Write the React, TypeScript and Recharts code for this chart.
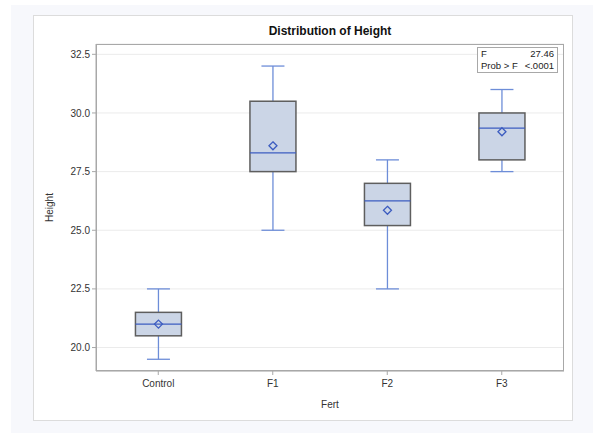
import { ComposedChart, Bar, XAxis, YAxis, CartesianGrid } from "recharts";

// box plot stats per group
const categories = ["Control", "F1", "F2", "F3"];
const minVals = [19.5, 25.0, 22.5, 27.5];
const q1Vals = [20.5, 27.5, 25.2, 28.0];
const medianVals = [21.0, 28.3, 26.25, 29.35];
const q3Vals = [21.5, 30.5, 27.0, 30.0];
const maxVals = [22.5, 32.0, 28.0, 31.0];
const meanVals = [21.0, 28.6, 25.85, 29.2];
const yTicks = [20, 22.5, 25, 27.5, 30, 32.5];
const statLabels = ["F", "Prob > F"];
const statValues = ["27.46", "<.0001"];

const data = categories.map((name, i) => ({
  name,
  min: minVals[i],
  q1: q1Vals[i],
  median: medianVals[i],
  q3: q3Vals[i],
  max: maxVals[i],
  mean: meanVals[i],
}));

const FONT = "'Liberation Sans', Arial, sans-serif";
const WHISKER = "#6d8dd8";
const INNER = "#3c5cc0";

// eslint-disable-next-line @typescript-eslint/no-explicit-any
function BoxShape(props: any) {
  const { x, y, width, height } = props;
  const p = props.payload ?? props;
  const top = Math.min(y, y + height);
  const h = Math.abs(height);
  const toY = (v: number) => top + (h * (p.max - v)) / (p.max - p.min);
  const cx = x + width / 2;
  const boxW = 46;
  const capW = 23;
  const yQ1 = toY(p.q1);
  const yQ3 = toY(p.q3);
  const yMed = toY(p.median);
  const yMean = toY(p.mean);
  const d = 4;
  return (
    <g>
      <line x1={cx} x2={cx} y1={toY(p.max)} y2={yQ3} stroke={WHISKER} strokeWidth={1.3} />
      <line x1={cx} x2={cx} y1={yQ1} y2={toY(p.min)} stroke={WHISKER} strokeWidth={1.3} />
      <line x1={cx - capW / 2} x2={cx + capW / 2} y1={toY(p.max)} y2={toY(p.max)} stroke={WHISKER} strokeWidth={1.3} />
      <line x1={cx - capW / 2} x2={cx + capW / 2} y1={toY(p.min)} y2={toY(p.min)} stroke={WHISKER} strokeWidth={1.3} />
      <rect x={cx - boxW / 2} y={yQ3} width={boxW} height={yQ1 - yQ3} fill="#cbd5e6" stroke="#5e5e5e" strokeWidth={1.5} />
      <line x1={cx - boxW / 2} x2={cx + boxW / 2} y1={yMed} y2={yMed} stroke={INNER} strokeWidth={1.3} />
      <polygon
        points={`${cx},${yMean - d} ${cx + d},${yMean} ${cx},${yMean + d} ${cx - d},${yMean}`}
        fill="none"
        stroke={INNER}
        strokeWidth={1.3}
      />
    </g>
  );
}

export default function App() {
  return (
    <div style={{ position: "absolute", left: 0, top: 0, width: 593, height: 433, background: "#fff", fontFamily: FONT }}>
      <div style={{ position: "absolute", left: 11, top: 5, width: 582, height: 428, background: "#f7f8fc" }} />
      <div
        style={{
          position: "absolute",
          left: 33,
          top: 15,
          width: 538,
          height: 404,
          background: "#fff",
          border: "1px solid #dcdcdc",
        }}
      />
      <div
        style={{
          position: "absolute",
          left: 96,
          top: 24,
          width: 468,
          textAlign: "center",
          fontWeight: "bold",
          fontSize: 12,
          color: "#111",
        }}
      >
        Distribution of Height
      </div>
      <div style={{ position: "absolute", left: 0, top: 0 }}>
        <ComposedChart
          width={593}
          height={433}
          data={data}
          margin={{ top: 44, right: 29, left: 36, bottom: 32 }}
        >
          <CartesianGrid horizontal vertical={false} stroke="#ebebeb" strokeWidth={1} />
          <XAxis
            dataKey="name"
            type="category"
            padding={{ left: 5, right: 5 }}
            height={30}
            tick={{ fontSize: 10, fill: "#333", fontFamily: FONT }}
            tickLine={{ stroke: "#a8a8a8" }}
            tickSize={4}
            tickMargin={5}
            axisLine={{ stroke: "#a8a8a8" }}
            label={{ value: "Fert", position: "insideBottom", offset: -7, fontSize: 10, fill: "#333", fontFamily: FONT }}
          />
          <YAxis
            type="number"
            domain={[19.0, 32.94]}
            ticks={yTicks}
            allowDataOverflow
            width={60}
            tickFormatter={(v) => Number(v).toFixed(1)}
            tick={{ fontSize: 10, fill: "#333", fontFamily: FONT }}
            tickLine={{ stroke: "#a8a8a8" }}
            tickSize={4}
            axisLine={{ stroke: "#a8a8a8" }}
            label={{
              value: "Height",
              angle: -90,
              position: "insideLeft",
              offset: 13,
              fontSize: 10,
              fill: "#333",
              fontFamily: FONT,
              style: { textAnchor: "middle" },
            }}
          />
          <Bar
            dataKey={(d: { min: number; max: number }) => [d.min, d.max]}
            shape={BoxShape}
            isAnimationActive={false}
          />
        </ComposedChart>
      </div>
      <div
        style={{
          position: "absolute",
          left: 96,
          top: 44,
          width: 468,
          height: 327,
          border: "1px solid #a8a8a8",
          boxSizing: "border-box",
          pointerEvents: "none",
        }}
      />
      <div
        style={{
          position: "absolute",
          left: 477,
          top: 47,
          width: 81,
          height: 26,
          border: "1px solid #a8a8a8",
          boxSizing: "border-box",
          background: "#fff",
          fontSize: 9.5,
          color: "#222",
          lineHeight: "11.5px",
          padding: "0 3px 0 3px",
        }}
      >
        {statLabels.map((l, i) => (
          <div key={l} style={{ display: "flex", justifyContent: "space-between" }}>
            <span>{l}</span>
            <span>{statValues[i]}</span>
          </div>
        ))}
      </div>
    </div>
  );
}
